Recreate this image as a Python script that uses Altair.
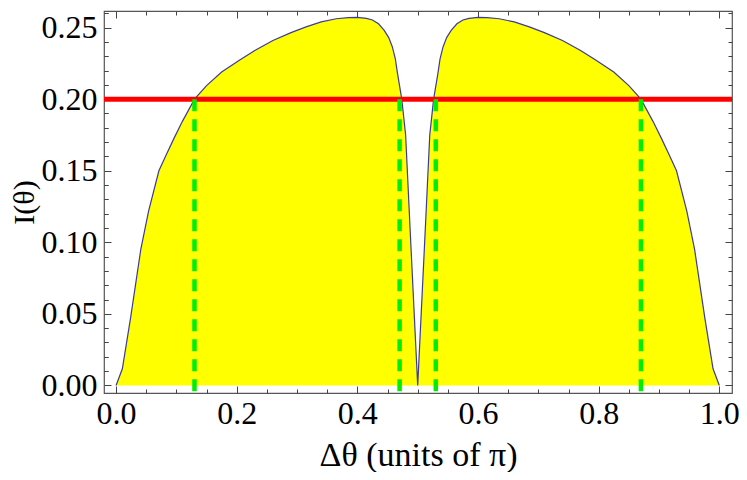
import altair as alt
import pandas as pd

# Curve (Δθ in units of π, I(θ))
theta = [0.0, 0.0104, 0.024, 0.041, 0.054, 0.071, 0.083, 0.096, 0.11, 0.13,
         0.15, 0.175, 0.205, 0.23, 0.26, 0.29, 0.315, 0.34, 0.365, 0.385,
         0.40, 0.415, 0.425, 0.435, 0.4445, 0.452, 0.458, 0.463, 0.4665, 0.4736,
         0.48, 0.488, 0.5,
         0.512, 0.52, 0.5264, 0.5335, 0.537, 0.542, 0.548, 0.5555, 0.565, 0.575,
         0.585, 0.60, 0.615, 0.635, 0.66, 0.685, 0.71, 0.74, 0.77, 0.795,
         0.825, 0.85, 0.87, 0.89, 0.904, 0.917, 0.929, 0.946, 0.959, 0.976,
         0.9896, 1.0]
intensity = [0.0, 0.0116, 0.047, 0.095, 0.122, 0.150, 0.161, 0.1726, 0.1845, 0.200,
             0.2095, 0.219, 0.2274, 0.234, 0.241, 0.2465, 0.2505, 0.254, 0.2562, 0.257,
             0.2571, 0.2565, 0.2553, 0.2527, 0.248, 0.243, 0.2365, 0.228, 0.218, 0.200,
             0.175, 0.104, 0.0,
             0.104, 0.175, 0.200, 0.218, 0.228, 0.2365, 0.243, 0.248, 0.2527, 0.2553,
             0.2565, 0.2571, 0.257, 0.2562, 0.254, 0.2505, 0.2465, 0.241, 0.234, 0.2274,
             0.219, 0.2095, 0.200, 0.1845, 0.1726, 0.161, 0.150, 0.122, 0.095, 0.047,
             0.0116, 0.0]

threshold = [0.2]
crossings = [0.13, 0.47, 0.53, 0.87]

x_major = [0.0, 0.2, 0.4, 0.6, 0.8, 1.0]
x_minor = [0.05, 0.1, 0.15, 0.25, 0.3, 0.35, 0.45, 0.5, 0.55, 0.65, 0.7, 0.75, 0.85, 0.9, 0.95]
y_major = [0.0, 0.05, 0.10, 0.15, 0.20, 0.25]
y_minor = [0.01, 0.02, 0.03, 0.04, 0.06, 0.07, 0.08, 0.09, 0.11, 0.12, 0.13, 0.14,
           0.16, 0.17, 0.18, 0.19, 0.21, 0.22, 0.23, 0.24, 0.26]

X_DOMAIN = [-0.02, 1.021]
Y_DOMAIN = [-0.0053, 0.2616]

curve = pd.DataFrame({"x": theta, "y": intensity})
hline = pd.DataFrame({"y": threshold})
vlines = pd.DataFrame({"x": crossings, "y": threshold * len(crossings),
                       "y2": [Y_DOMAIN[0]] * len(crossings)})

FONT = "Liberation Serif"
TICK = "#444444"

xs = alt.Scale(domain=X_DOMAIN, nice=False, zero=False)
ys = alt.Scale(domain=Y_DOMAIN, nice=False, zero=False)


def minor_axis(orient, values, size):
    return alt.Axis(orient=orient, values=values, labels=False, tickSize=size,
                    offset=-size, domain=False, grid=False, title=None,
                    tickColor=TICK, tickWidth=1)


area = alt.Chart(curve).mark_area(color="#FFFF00", opacity=1).encode(
    x=alt.X("x:Q", scale=xs, axis=alt.Axis(
        orient="bottom", values=x_major, format=".1f", tickSize=7, offset=-7,
        labelPadding=5, domain=False, grid=False, tickColor=TICK,
        title="Δθ (units of π)", titlePadding=9, titleFontSize=34)),
    y=alt.Y("y:Q", scale=ys, axis=alt.Axis(
        orient="left", values=y_major, format=".2f", tickSize=7, offset=-7,
        labelPadding=7, domain=False, grid=False, tickColor=TICK,
        title="I(θ)", titlePadding=2, titleFontSize=30)),
)

line = alt.Chart(curve).mark_line(color="#3B3B9E", strokeWidth=1.2).encode(
    x=alt.X("x:Q", scale=xs, axis=minor_axis("bottom", x_minor, 4)),
    y=alt.Y("y:Q", scale=ys, axis=minor_axis("left", y_minor, 4)),
)

red = alt.Chart(hline).mark_rule(color="#FF0000", strokeWidth=5).encode(
    y=alt.Y("y:Q", scale=ys, axis=minor_axis("right", y_minor, 4)),
)

green = alt.Chart(vlines).mark_rule(
    color="#00EE00", strokeWidth=4.5, strokeDash=[12, 8]
).encode(
    x=alt.X("x:Q", scale=xs, axis=minor_axis("top", x_major, 7)),
    y=alt.Y("y:Q", scale=ys, axis=minor_axis("right", y_major, 7)),
    y2="y2:Q",
)

ghost = alt.Chart(curve).mark_point(opacity=0).encode(
    x=alt.X("x:Q", scale=xs, axis=minor_axis("top", x_minor, 4)),
    y=alt.Y("y:Q", scale=ys, axis=minor_axis("left", y_minor, 4)),
)

chart = alt.layer(area, line, red, green, ghost).resolve_axis(
    x="independent", y="independent"
).properties(
    width=628, height=382,
    padding={"left": 96, "top": 3, "right": 7, "bottom": 79},
    autosize=alt.AutoSizeParams(type="none"),
).configure_view(
    stroke="#555555", strokeWidth=1.2
).configure_axis(
    labelFont=FONT, labelFontSize=32, labelColor="black",
    titleFont=FONT, titleFontSize=32, titleFontWeight="normal", titleColor="black",
)

chart.save("out.html", embed_options={"renderer": "svg", "actions": False})
